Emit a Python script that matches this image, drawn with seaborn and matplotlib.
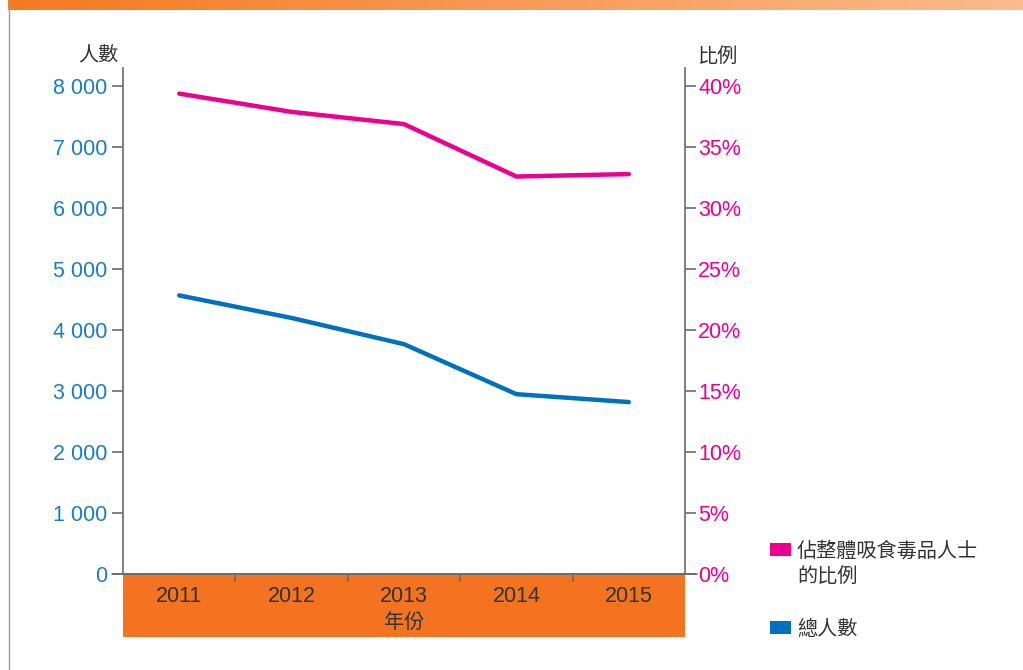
import numpy as np
import pandas as pd
import matplotlib
matplotlib.use("Agg")
import matplotlib.pyplot as plt
import seaborn as sns
from matplotlib.patches import Rectangle
from matplotlib.lines import Line2D

# ---- data ----
years = ["2011", "2012", "2013", "2014", "2015"]
total_people = [4570, 4200, 3770, 2950, 2820]
share_pct = [39.4, 37.9, 36.9, 32.6, 32.8]
left_ticks = [0, 1000, 2000, 3000, 4000, 5000, 6000, 7000, 8000]
right_ticks = [0, 5, 10, 15, 20, 25, 30, 35, 40]
legend_share = ["佔整體吸食毒品人士", "的比例"]
legend_total = "總人數"

BLUE = "#0071BC"
PINK = "#EC008C"
BLUE_TXT = "#1A7DC4"
ORANGE = "#F37321"
GREY = "#6b6b6b"
DARK = "#333333"
FS = 15.5
FS_CJK = 14.5

sns.set_style("white")
plt.rcParams["font.family"] = ["Liberation Sans", "Noto Sans CJK TC", "DejaVu Sans"]

W, H = 1023, 670
fig = plt.figure(figsize=(W / 100, H / 100), dpi=100)

def fx(px):
    return px / W

def fy(py):
    return 1 - py / H

ax_l, ax_r, ax_t, ax_b = 123, 685, 68, 574
ax = fig.add_axes([fx(ax_l), fy(ax_b), (ax_r - ax_l) / W, (ax_b - ax_t) / H])

df = pd.DataFrame({"year": years, "total": total_people, "share": share_pct})

sns.lineplot(data=df, x="year", y="total", ax=ax, color=BLUE, lw=3.2, sort=False)
ax2 = ax.twinx()
sns.lineplot(data=df, x="year", y="share", ax=ax2, color=PINK, lw=3.2, sort=False)

ax.set_xlim(-0.5, len(years) - 0.5)
ax.set_ylim(0, 8300)
ax2.set_ylim(0, 41.5)

for a in (ax, ax2):
    for s in a.spines.values():
        s.set_color(GREY)
        s.set_linewidth(1.2)
    a.spines["top"].set_visible(False)
    a.set_ylabel("")
    a.set_xlabel("")

ax.spines["right"].set_visible(False)
ax2.spines["left"].set_visible(False)
ax2.spines["bottom"].set_visible(False)

ax.set_yticks(left_ticks)
ax.set_yticklabels([f"{v:,}".replace(",", " ") for v in left_ticks])
ax.tick_params(axis="y", which="major", direction="out", length=8, width=1.2,
               color=GREY, labelcolor=BLUE_TXT, labelsize=FS, pad=3, left=True)
ax2.set_yticks(right_ticks)
ax2.set_yticklabels([f"{v}%" for v in right_ticks])
ax2.tick_params(axis="y", which="major", direction="out", length=8, width=1.2,
                color=GREY, labelcolor=PINK, labelsize=FS, pad=1.5, right=True)

# x axis: labels inside orange band, ticks at boundaries
ax.set_xticks(range(len(years)))
ax.set_xticklabels(years)
ax.set_xticks(np.arange(0.5, len(years) - 1, 1.0), minor=True)
ax.tick_params(axis="x", which="major", length=0, labelsize=FS, labelcolor=DARK, pad=8.5)
ax.tick_params(axis="x", which="minor", direction="out", length=5.5, width=1.2, color=GREY, bottom=True)

# orange band under x-axis
band = Rectangle((fx(ax_l), fy(637)), (ax_r - ax_l) / W, (637 - ax_b) / H,
                 transform=fig.transFigure, color=ORANGE, zorder=-5, lw=0)
fig.patches.append(band)
fig.text(fx(404), fy(622), "年份", ha="center", va="center", fontsize=FS_CJK, color=DARK)

# bottom baseline extended over tick extents
fig.add_artist(Line2D([fx(112), fx(697)], [fy(574), fy(574)], color=GREY, lw=1.2))

# axis titles
fig.text(fx(98), fy(56), "人數", ha="center", va="center", fontsize=FS_CJK, color=DARK)
fig.text(fx(718), fy(56), "比例", ha="center", va="center", fontsize=FS_CJK, color=DARK)

# legend
fig.patches.append(Rectangle((fx(770), fy(556)), 21 / W, 13 / H, transform=fig.transFigure,
                             color=PINK, lw=0))
fig.text(fx(797), fy(551), legend_share[0], ha="left", va="center", fontsize=FS_CJK, color=DARK)
fig.text(fx(797), fy(576), legend_share[1], ha="left", va="center", fontsize=FS_CJK, color=DARK)
fig.patches.append(Rectangle((fx(770), fy(634)), 21 / W, 13 / H, transform=fig.transFigure,
                             color=BLUE, lw=0))
fig.text(fx(797), fy(629), legend_total, ha="left", va="center", fontsize=FS_CJK, color=DARK)

# top gradient bar and left border line
gax = fig.add_axes([fx(8), fy(10), 1 - fx(8), 10 / H])
cmap = matplotlib.colors.LinearSegmentedColormap.from_list("g", ["#F47A20", "#FBBB8D"])
gax.imshow(np.linspace(0, 1, 256)[None, :], aspect="auto", cmap=cmap, extent=(0, 1, 0, 1))
gax.set_axis_off()
fig.add_artist(Line2D([fx(8.5), fx(8.5)], [0, 1], color="#9a9a9a", lw=1))

fig.savefig("out.png", dpi=100)
